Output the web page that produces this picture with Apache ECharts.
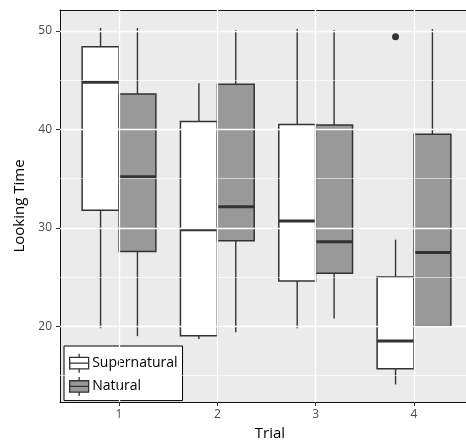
<!DOCTYPE html>
<html>
<head>
<meta charset="utf-8">
<script src="https://cdn.jsdelivr.net/npm/echarts@6/dist/echarts.min.js"></script>
<style>
html,body{margin:0;padding:0;background:#fff;}
#chart{width:466px;height:446px;}
</style>
</head>
<body>
<div id="chart"></div>
<script>
// ---- data ----
const trials = [1, 2, 3, 4];
const trialLabels = ['1', '2', '3', '4'];
const yTickValues = [20, 30, 40, 50];
const yMinorValues = [15, 25, 35, 45];
// [lower whisker, Q1, median, Q3, upper whisker]
const supernatural = [
  [19.8, 31.8, 44.8, 48.4, 50.3],
  [18.7, 19.05, 29.8, 40.8, 44.7],
  [19.8, 24.6, 30.7, 40.5, 50.2],
  [14.1, 15.7, 18.5, 25.0, 28.8]
];
const natural = [
  [19.0, 27.6, 35.2, 43.6, 50.3],
  [19.4, 28.7, 32.15, 44.6, 50.1],
  [20.8, 25.4, 28.6, 40.45, 50.1],
  [20.0, 20.0, 27.5, 39.5, 50.2]
];
// [trial, value]
const supernaturalOutliers = [[4, 49.4]];
const naturalOutliers = [];

// ---- layout/style ----
const BOX_W = 0.375;
const DODGE = 0.1875;
const STROKE = '#333333';
const X_MIN = 0.4, X_MAX = 4.529;
const Y_MIN = 12.31, Y_MAX = 52.13;

function boxRender(offset) {
  return function (params, api) {
    const x = api.value(0) + offset;
    const lo = api.value(1), q1 = api.value(2), med = api.value(3), q3 = api.value(4), hi = api.value(5);
    const h = BOX_W / 2;
    const tl = api.coord([x - h, q3]);
    const br = api.coord([x + h, q1]);
    const cx = api.coord([x, med])[0];
    const yLo = api.coord([x, lo])[1], yQ1 = br[1], yQ3 = tl[1], yHi = api.coord([x, hi])[1];
    const yMed = api.coord([x, med])[1];
    const fill = api.visual('color');
    return {
      type: 'group',
      children: [
        {type: 'line', shape: {x1: cx, y1: yHi, x2: cx, y2: yQ3}, style: {stroke: STROKE, lineWidth: 1.4}},
        {type: 'line', shape: {x1: cx, y1: yQ1, x2: cx, y2: yLo}, style: {stroke: STROKE, lineWidth: 1.4}},
        {type: 'rect', shape: {x: tl[0], y: tl[1], width: br[0] - tl[0], height: br[1] - tl[1]},
          style: {fill: fill, stroke: STROKE, lineWidth: 1.5}},
        {type: 'line', shape: {x1: tl[0], y1: yMed, x2: br[0], y2: yMed}, style: {stroke: STROKE, lineWidth: 3}}
      ]
    };
  };
}
function outlierRender(offset) {
  return function (params, api) {
    const p = api.coord([api.value(0) + offset, api.value(1)]);
    return {type: 'circle', shape: {cx: p[0], cy: p[1], r: 3.5}, style: {fill: STROKE}};
  };
}

const toRows = arr => arr.map((v, i) => [trials[i]].concat(v));

const gridLines = [];
yTickValues.forEach(v => gridLines.push({yAxis: v, lineStyle: {width: 1.3}}));
yMinorValues.forEach(v => gridLines.push({yAxis: v, lineStyle: {width: 0.6}}));
trials.forEach(v => gridLines.push({xAxis: v, lineStyle: {width: 1.3}}));

const boxIcon = 'path://M0,4L20,4L20,16L0,16Z M0,10L20,10 M10,0L10,4 M10,16L10,20';

const chart = echarts.init(document.getElementById('chart'), null, {renderer: 'canvas'});
chart.setOption({
  animation: false,
  backgroundColor: '#ffffff',
  textStyle: {fontFamily: 'Open Sans'},
  grid: {left: 60, top: 10, right: 0, bottom: 43, show: true, backgroundColor: '#EBEBEB',
    borderWidth: 0},
  xAxis: [{
    type: 'value', min: X_MIN, max: X_MAX,
    name: 'Trial', nameLocation: 'middle', nameGap: 24,
    nameTextStyle: {fontSize: 15, color: '#000', fontFamily: 'Open Sans', padding: [0, 0, 0, 14]},
    axisLine: {show: true, lineStyle: {color: '#111', width: 1}},
    splitLine: {show: false},
    axisTick: {show: true, customValues: trials, length: 4, lineStyle: {color: STROKE, width: 1}},
    axisLabel: {customValues: trials, margin: 7, fontSize: 12, color: '#4D4D4D', fontFamily: 'Open Sans',
      formatter: v => trialLabels[trials.indexOf(v)]}
  }, {
    type: 'value', position: 'top', min: X_MIN, max: X_MAX,
    axisLine: {show: true, lineStyle: {color: '#111', width: 1}},
    axisTick: {show: false}, axisLabel: {show: false}, splitLine: {show: false}
  }],
  yAxis: {
    type: 'value', min: Y_MIN, max: Y_MAX,
    name: 'Looking Time', nameLocation: 'middle', nameGap: 30,
    nameTextStyle: {fontSize: 15, color: '#000', fontFamily: 'Open Sans'},
    axisLine: {show: true, lineStyle: {color: '#111', width: 1}},
    splitLine: {show: false},
    axisTick: {show: true, customValues: yTickValues, length: 4, lineStyle: {color: STROKE, width: 1}},
    axisLabel: {customValues: yTickValues, margin: 8, fontSize: 12, color: '#4D4D4D', fontFamily: 'Open Sans'}
  },
  legend: {
    orient: 'vertical', left: 64, top: 346,
    backgroundColor: '#fff', borderColor: '#000', borderWidth: 1,
    padding: [7, 5, 4, 5], itemGap: 3, itemWidth: 20, itemHeight: 19,
    textStyle: {fontSize: 14, color: '#000', fontFamily: 'Open Sans', padding: [0, 0, 0, -2]},
    data: [
      {name: 'Supernatural', icon: boxIcon, itemStyle: {color: '#FFFFFF', borderColor: STROKE, borderWidth: 1.3}},
      {name: 'Natural', icon: boxIcon, itemStyle: {color: '#999999', borderColor: STROKE, borderWidth: 1.3}}
    ]
  },
  series: [
    {type: 'line', data: [], z: 1, silent: true,
      markLine: {silent: true, symbol: 'none', label: {show: false}, animation: false,
        lineStyle: {color: '#FFFFFF', type: 'solid'}, data: gridLines}},
    {name: 'Supernatural', type: 'custom', z: 3, itemStyle: {color: '#FFFFFF'},
      renderItem: boxRender(-DODGE), encode: {x: 0, y: [1, 2, 3, 4, 5]}, data: toRows(supernatural)},
    {name: 'Natural', type: 'custom', z: 3, itemStyle: {color: '#999999'},
      renderItem: boxRender(DODGE), encode: {x: 0, y: [1, 2, 3, 4, 5]}, data: toRows(natural)},
    {name: 'Supernatural', type: 'custom', z: 4, itemStyle: {color: '#FFFFFF'},
      renderItem: outlierRender(-DODGE), encode: {x: 0, y: 1}, data: supernaturalOutliers},
    {name: 'Natural', type: 'custom', z: 4, itemStyle: {color: '#999999'},
      renderItem: outlierRender(DODGE), encode: {x: 0, y: 1}, data: naturalOutliers}
  ]
});
</script>
</body>
</html>
